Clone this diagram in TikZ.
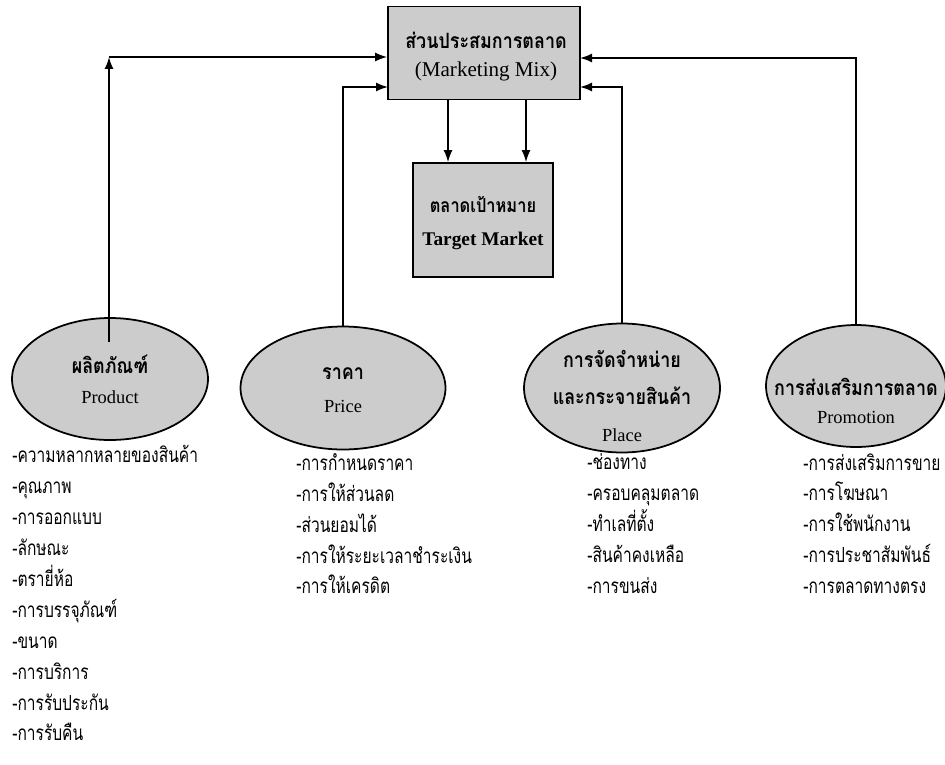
\documentclass[tikz,border=0pt]{standalone}
\usepackage{fontspec}
\setmainfont{Liberation Serif}
\newfontfamily\thaifont[Script=Thai,FakeStretch=0.85]{Loma}
\newfontfamily\thailist[Script=Thai,FakeStretch=0.75]{Loma}
\usetikzlibrary{shapes.geometric,arrows.meta}

\tikzset{
	mixbox/.style={draw, line width=1pt, fill=black!20, inner sep=0pt},
	boxtext/.style={align=center, inner sep=0pt},
	mixellipse/.style={ellipse, draw, line width=1pt, fill=black!20, inner sep=0pt},
	elltext/.style={align=center, inner sep=0pt},
	itemlist/.style={anchor=north west, align=left, inner sep=0pt, font=\thailist\fontsize{11.8}{17.6}\selectfont},
	flowline/.style={line width=0.9pt, -{Latex[length=2.4mm, width=1.8mm]}},
}
\newcommand{\thaihead}{\thaifont\bfseries\fontsize{12}{12}\selectfont}

\begin{document}
\begin{tikzpicture}[x=0.02cm, y=-0.02cm]
	\useasboundingbox (0,0) rectangle (945,764);

	% boxes
	\node[mixbox, minimum width=3.84cm, minimum height=1.86cm] (mix) at (484,53) {};
	\node[boxtext, font=\fontsize{12}{16}\selectfont] (mixtxt) at (486,57)
		{{\thaifont\bfseries ส่วนประสมการตลาด}\\(Marketing Mix)};
	\node[mixbox, minimum width=2.8cm, minimum height=2.28cm] (target) at (483,220) {};
	\node[boxtext, font=\fontsize{11}{19}\selectfont] (targettxt) at (483,223)
		{{\thaifont\bfseries ตลาดเป้าหมาย}\\\textbf{Target Market}};

	% the four P
	\node[mixellipse, minimum width=3.92cm, minimum height=2.44cm] (prod) at (110,379) {};
	\node[mixellipse, minimum width=4.1cm, minimum height=2.46cm] (price) at (343,388) {};
	\node[mixellipse, minimum width=3.92cm, minimum height=2.58cm] (place) at (622,388) {};
	\node[mixellipse, minimum width=3.6cm, minimum height=2.44cm] (promo) at (856,386) {};

	\node[elltext, font=\fontsize{10.5}{17}\selectfont] (prodtxt) at (110,379) {{\thaihead ผลิตภัณฑ์}\\Product};
	\node[elltext, font=\fontsize{10.5}{18.7}\selectfont] (pricetxt) at (343,390) {{\thaihead ราคา}\\Price};
	\node[elltext, font=\fontsize{10.5}{21}\selectfont] (placetxt) at (622,396) {{\thaihead การจัดจำหน่าย}\\{\thaihead และกระจายสินค้า}\\Place};
	\node[elltext, font=\fontsize{10.5}{16}\selectfont] (promotxt) at (856,401) {{\thaihead การส่งเสริมการตลาด}\\Promotion};

	% lists
	\node[itemlist] (prodlist) at (12,445)
		{-ความหลากหลายของสินค้า\\-คุณภาพ\\-การออกแบบ\\-ลักษณะ\\-ตรายี่ห้อ\\-การบรรจุภัณฑ์\\-ขนาด\\-การบริการ\\-การรับประกัน\\-การรับคืน};
	\node[itemlist] (pricelist) at (296,453)
		{-การกำหนดราคา\\-การให้ส่วนลด\\-ส่วนยอมได้\\-การให้ระยะเวลาชำระเงิน\\-การให้เครดิต};
	\node[itemlist] (placelist) at (587,453)
		{-ช่องทาง\\-ครอบคลุมตลาด\\-ทำเลที่ตั้ง\\-สินค้าคงเหลือ\\-การขนส่ง};
	\node[itemlist] (promolist) at (803,453)
		{-การส่งเสริมการขาย\\-การโฆษณา\\-การใช้พนักงาน\\-การประชาสัมพันธ์\\-การตลาดทางตรง};

	% connectors
	\coordinate (prodfoot) at (109,342);
	\coordinate (prodturn) at (109,57);
	\coordinate (pricein) at (388,87);
	\coordinate (placein) at (580,87);
	\coordinate (promoin) at (580,58);
	\coordinate (downl) at (448,0);
	\coordinate (downr) at (526,0);

	\draw[flowline] (prodfoot) -- (prodturn);
	\draw[flowline] (prodturn) -- (mix.west |- prodturn);
	\draw[flowline] (price.north) |- (pricein);
	\draw[flowline] (place.north) |- (placein);
	\draw[flowline] (promo.north) |- (promoin);
	\draw[flowline] (mix.south -| downl) -- (target.north -| downl);
	\draw[flowline] (mix.south -| downr) -- (target.north -| downr);
\end{tikzpicture}
\end{document}
